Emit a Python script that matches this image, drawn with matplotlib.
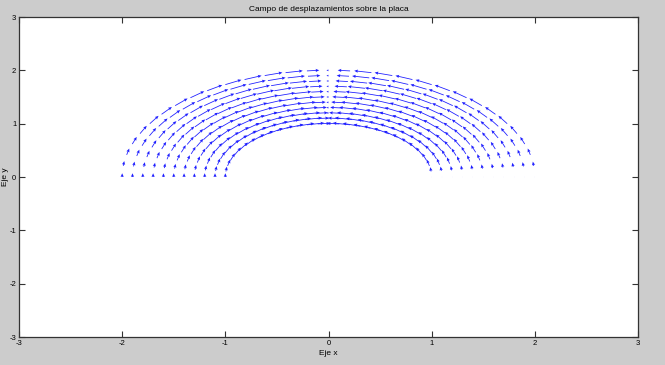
import numpy as np
import matplotlib
matplotlib.use("Agg")
import matplotlib.pyplot as plt

# --- data ---
radii = [1.0, 1.1, 1.2, 1.3, 1.4, 1.5, 1.6, 1.7, 1.8, 1.9, 2.0]
angles_deg = [0, 6, 12, 18, 24, 30, 36, 42, 48, 54, 60, 66, 72, 78, 84, 90,
              96, 102, 108, 114, 120, 126, 132, 138, 144, 150, 156, 162, 168, 174, 180]
# tangential displacement (positive = counter-clockwise), per angle
u_theta = [0.0, 0.08, 0.12, 0.14, 0.16, 0.17, 0.17, 0.18, 0.18, 0.18, 0.18, 0.18, 0.18, 0.17, 0.12, 0.02,
           -0.12, -0.17, -0.18, -0.18, -0.18, -0.18, -0.18, -0.18, -0.17, -0.17, -0.16, -0.14, -0.12, -0.09, -0.07]
x_ticks = [-3, -2, -1, 0, 1, 2, 3]
y_ticks = [-3, -2, -1, 0, 1, 2, 3]
title = "Campo de desplazamientos sobre la placa"
xlabel = "Eje x"
ylabel = "Eje y"

plt.rcParams['font.family'] = ['Liberation Sans Narrow', 'Liberation Sans', 'DejaVu Sans']
plt.rcParams['axes.unicode_minus'] = False

fig = plt.figure(figsize=(6.65, 3.65), dpi=100, facecolor='#cccccc')
ax = fig.add_axes([19/665, 28/365, 619/665, 320/365])
ax.set_facecolor('white')

R, T = np.meshgrid(np.array(radii), np.deg2rad(np.array(angles_deg)))
M = np.tile(np.array(u_theta)[:, None], (1, len(radii)))
X = R * np.cos(T)
Y = R * np.sin(T)
U = -M * np.sin(T)
V = M * np.cos(T)

ax.quiver(X.ravel(), Y.ravel(), U.ravel(), V.ravel(), color='#1f1fff',
          angles='xy', scale_units='xy', scale=1,
          width=0.0013, headwidth=4, headlength=4.5, headaxislength=4,
          minlength=0.3, minshaft=1)

ax.set_xlim(-3, 3)
ax.set_ylim(-3, 3)
ax.set_xticks(x_ticks)
ax.set_yticks(y_ticks)
ax.tick_params(direction='in', length=4, width=0.8, labelsize=5.5, pad=2,
               top=True, right=True, colors='#333333', labelcolor='black')
for s in ax.spines.values():
    s.set_color('#333333')
    s.set_linewidth(0.9)

ax.set_title(title, fontsize=6, pad=4)
ax.set_xlabel(xlabel, fontsize=6, labelpad=2)
ax.set_ylabel(ylabel, fontsize=6, labelpad=0)

fig.savefig('out.png', dpi=100, facecolor=fig.get_facecolor())
